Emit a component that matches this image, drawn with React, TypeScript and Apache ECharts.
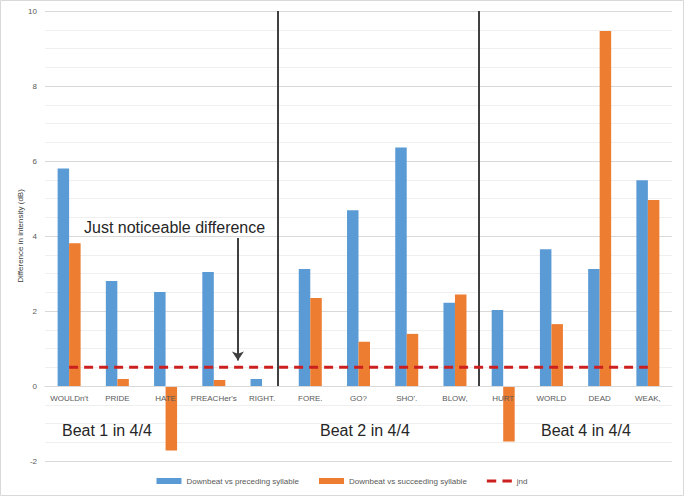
import React, { useEffect, useRef } from 'react';
import * as echarts from 'echarts';

const categories = ["WOULDn't", 'PRIDE', 'HATE', "PREACHer's", 'RIGHT.', 'FORE.', 'GO?', "SHO'.", 'BLOW,', 'HURT', 'WORLD', 'DEAD', 'WEAK,'];
const preceding = [5.8, 2.8, 2.51, 3.04, 0.19, 3.12, 4.69, 6.36, 2.22, 2.03, 3.65, 3.12, 5.49];
const succeeding = [3.81, 0.19, -1.72, 0.16, 0, 2.35, 1.18, 1.39, 2.44, -1.48, 1.65, 9.47, 4.96];
const jnd = [0.5, 0.5, 0.5, 0.5, 0.5, 0.5, 0.5, 0.5, 0.5, 0.5, 0.5, 0.5, 0.5];
// section dividers, in category units from the left edge of the plot
const dividers = [4.83, 9];
// arrow pointing at the jnd line
const arrowX = 4;
const arrowFrom = 3.95;
const arrowTo = 0.68;

const Y_MIN = -2;
const Y_MAX = 10;
const FONT = '"Liberation Sans", Arial, sans-serif';

const GRID = { left: 45, right: 12, top: 11, bottom: 35 };
const HEIGHT = 496;

export default function App() {
  const chartRef = useRef<HTMLDivElement>(null);

  useEffect(() => {
    if (!chartRef.current) return;
    const chart = echarts.init(chartRef.current, null, { renderer: 'svg' });

    // lift the category axis up to the zero line
    const plotH = HEIGHT - GRID.top - GRID.bottom;
    const zeroOffset = -((0 - Y_MIN) / (Y_MAX - Y_MIN)) * plotH;

    const option = {
      animation: false,
      textStyle: { fontFamily: FONT },
      grid: GRID,
      legend: {
        data: [
          { name: 'Downbeat vs preceding syllable', icon: 'rect' },
          { name: 'Downbeat vs succeeding syllable', icon: 'rect' },
          { name: 'jnd', icon: 'path://M0 0H9V3H0Z M15 0H24V3H15Z' },
        ],
        left: 'center',
        top: 472,
        itemWidth: 25,
        itemHeight: 6,
        itemGap: 20,
        textStyle: { fontSize: 8, color: '#595959', fontFamily: FONT },
      },
      xAxis: [
        {
          type: 'category',
          data: categories,
          offset: zeroOffset,
          z: 6,
          axisLine: { onZero: false, lineStyle: { color: '#d9d9d9' } },
          axisTick: { show: false },
          axisLabel: { fontSize: 8, color: '#595959', margin: 8, interval: 0 },
        },
        { type: 'value', min: 0, max: 13, show: false, axisLine: { onZero: false } },
      ],
      yAxis: {
        type: 'value',
        min: Y_MIN,
        max: Y_MAX,
        interval: 2,
        name: 'Difference in intensity (dB)',
        nameLocation: 'middle',
        nameGap: 21,
        nameMoveOverlap: false,
        nameTextStyle: { fontSize: 8, color: '#404040' },
        axisLine: { show: false, onZero: false },
        axisTick: { show: false },
        axisLabel: { fontSize: 8, color: '#595959', margin: 8 },
        splitLine: { lineStyle: { color: '#d9d9d9' } },
        minorTick: { show: false, splitNumber: 4 },
        minorSplitLine: { show: true, lineStyle: { color: '#efefef' } },
      },
      series: [
        {
          name: 'Downbeat vs preceding syllable',
          type: 'bar',
          data: preceding,
          barWidth: 11.5,
          barGap: '0%',
          itemStyle: { color: '#5b9bd5' },
        },
        {
          name: 'Downbeat vs succeeding syllable',
          type: 'bar',
          data: succeeding,
          barWidth: 11.5,
          barGap: '0%',
          itemStyle: { color: '#ed7d31' },
        },
        {
          name: 'jnd',
          type: 'line',
          data: jnd,
          symbol: 'none',
          z: 5,
          lineStyle: { color: '#cc1f1f', width: 3, type: [9, 6] },
          itemStyle: { color: '#cc1f1f' },
        },
        {
          name: 'annotations',
          type: 'line',
          xAxisIndex: 1,
          data: [],
          silent: true,
          markLine: {
            silent: true,
            animation: false,
            label: { show: false },
            lineStyle: { color: '#404040', width: 2, type: 'solid' },
            symbol: ['none', 'none'],
            data: [
              ...dividers.map((d) => [
                { coord: [d, Y_MAX], symbol: 'none' },
                { coord: [d, 0], symbol: 'none' },
              ]),
              [
                { coord: [arrowX, arrowFrom], symbol: 'none' },
                { coord: [arrowX, arrowTo], symbol: 'arrow', symbolSize: [9, 9] },
              ],
            ],
          },
        },
      ],
      graphic: [
        {
          type: 'rect',
          shape: { x: 0.5, y: 0.5, width: 683, height: 495 },
          style: { fill: 'none', stroke: '#d9d9d9', lineWidth: 1 },
          silent: true,
        },
        {
          type: 'text',
          left: 84,
          top: 219,
          style: { text: 'Just noticeable difference', fontSize: 16, fill: '#262626', fontFamily: FONT },
        },
        {
          type: 'text',
          left: 62,
          top: 422,
          style: { text: 'Beat 1 in 4/4', fontSize: 16, fill: '#262626', fontFamily: FONT },
        },
        {
          type: 'text',
          left: 320,
          top: 422,
          style: { text: 'Beat 2 in 4/4', fontSize: 16, fill: '#262626', fontFamily: FONT },
        },
        {
          type: 'text',
          left: 541,
          top: 422,
          style: { text: 'Beat 4 in 4/4', fontSize: 16, fill: '#262626', fontFamily: FONT },
        },
      ],
    };

    chart.setOption(option);
    return () => chart.dispose();
  }, []);

  return (
    <div
      ref={chartRef}
      style={{ position: 'fixed', left: 0, top: 0, width: 684, height: HEIGHT, background: '#fff' }}
    />
  );
}
